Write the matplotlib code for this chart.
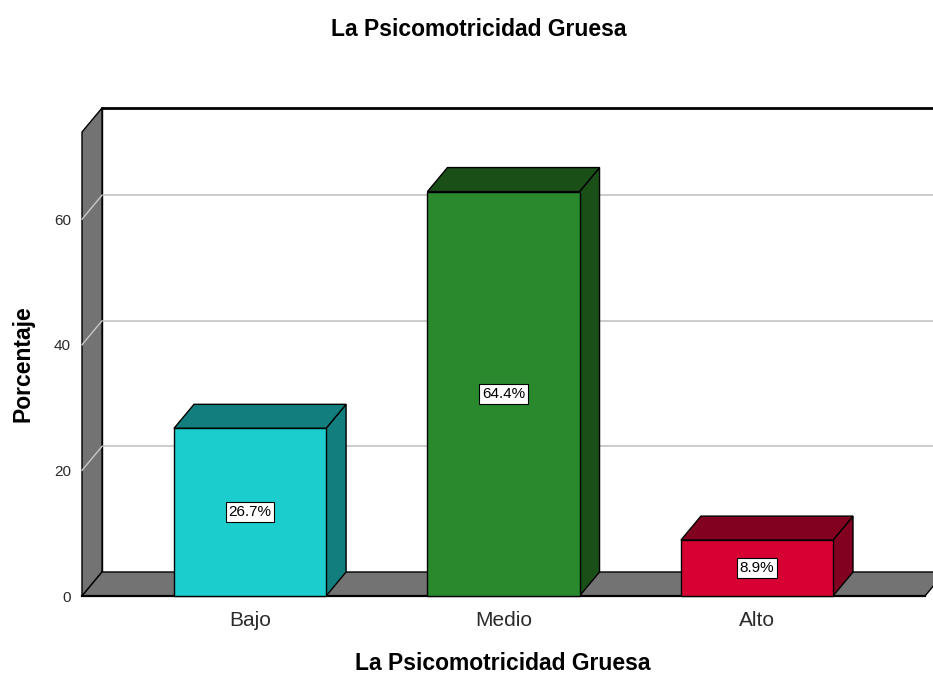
import matplotlib
matplotlib.use("Agg")
import matplotlib.pyplot as plt
from matplotlib.patches import Polygon, Rectangle

# ------------------------------------------------------------------
# Data
# ------------------------------------------------------------------
categories = ["Bajo", "Medio", "Alto"]
percentages = [26.7, 64.4, 8.9]
value_labels = ["26.7%", "64.4%", "8.9%"]
y_ticks = [0, 20, 40, 60]

front_colors = ["#1ccdcd", "#2a882d", "#d60032"]
dark_colors = ["#137e7e", "#1a4f18", "#820020"]

title = "La Psicomotricidad Gruesa"
x_title = "La Psicomotricidad Gruesa"
y_title = "Porcentaje"

plt.rcParams["font.family"] = ["Liberation Sans", "DejaVu Sans"]

W, H = 933, 675
fig = plt.figure(figsize=(W / 100, H / 100), dpi=100)

# front plane of the plot area in pixels
px_left, px_right, px_bottom, px_top = 82, 925, 596, 132
ax = fig.add_axes([px_left / W, 1 - px_bottom / H,
                   (px_right - px_left) / W, (px_bottom - px_top) / H])

x0, x1 = -0.663, 2.663
y_scale = 6.28                      # pixels per percent
ymax = (px_bottom - px_top) / y_scale
ax.set_xlim(x0, x1)
ax.set_ylim(0, ymax)

# 3D depth offset in data units
dx = 20 / (px_right - px_left) * (x1 - x0)
dy = 24 / y_scale
bar_w = 0.6
wall_grey = "#737373"
grid_col = "#c8c8c8"


def poly(pts, fc, z, lw=1.0):
    p = Polygon(pts, closed=True, facecolor=fc, edgecolor="black",
                linewidth=lw, zorder=z, clip_on=False, joinstyle="miter")
    ax.add_patch(p)


# back wall
ax.add_patch(Rectangle((x0 + dx, dy), (x1 - x0) + 0.2, ymax, facecolor="white",
                       edgecolor="none", zorder=0, clip_on=False))
ax.plot([x0 + dx, x1 + dx + 0.2], [ymax + dy] * 2, color="black", lw=2,
        zorder=1, clip_on=False)
ax.plot([x0 + dx, x0 + dx], [dy, ymax + dy], color="black", lw=1,
        zorder=1, clip_on=False)

# left wall and floor
poly([(x0, 0), (x0, ymax), (x0 + dx, ymax + dy), (x0 + dx, dy)], wall_grey, 2)
poly([(x0, 0), (x1, 0), (x1 + dx, dy), (x0 + dx, dy)], wall_grey, 2)
ax.plot([x0, x1], [0, 0], color="black", lw=1.6, zorder=3, clip_on=False)

# gridlines on the back wall and across the left wall
for t in y_ticks[1:]:
    ax.plot([x0 + dx, x1 + dx + 0.2], [t + dy] * 2, color=grid_col, lw=1.3,
            zorder=1.5, clip_on=False)
    ax.plot([x0, x0 + dx], [t, t + dy], color=grid_col, lw=1.0,
            zorder=2.5, clip_on=False)

# bars
for i, (v, fc, dc) in enumerate(zip(percentages, front_colors, dark_colors)):
    bl, br = i - bar_w / 2, i + bar_w / 2
    poly([(br, 0), (br + dx, dy), (br + dx, v + dy), (br, v)], dc, 4)
    poly([(bl, v), (br, v), (br + dx, v + dy), (bl + dx, v + dy)], dc, 4)
    poly([(bl, 0), (br, 0), (br, v), (bl, v)], fc, 5)
    ax.text(i, v / 2, value_labels[i], ha="center", va="center", fontsize=11,
            zorder=6, color="black",
            bbox=dict(boxstyle="square,pad=0.18", facecolor="white",
                      edgecolor="black", linewidth=0.8))

# axes / ticks
for s in ax.spines.values():
    s.set_visible(False)
ax.set_facecolor("none")
ax.set_yticks(y_ticks)
ax.set_yticklabels([str(t) for t in y_ticks], fontsize=11, color="#2b2b2b")
ax.set_xticks(range(len(categories)))
ax.set_xticklabels(categories, fontsize=15, color="#2b2b2b")
ax.tick_params(axis="y", length=0, pad=8)
ax.tick_params(axis="x", length=0, pad=11)

fig.text(479 / W, 1 - 36 / H, title, ha="center", va="baseline",
         fontsize=16.5, fontweight="bold")
fig.text(503 / W, 1 - 670 / H, x_title, ha="center", va="baseline",
         fontsize=16.5, fontweight="bold")
fig.text(23 / W, 1 - 364 / H, y_title, ha="center", va="center",
         rotation=90, fontsize=16.5, fontweight="bold")

fig.savefig("out.png", dpi=100)
